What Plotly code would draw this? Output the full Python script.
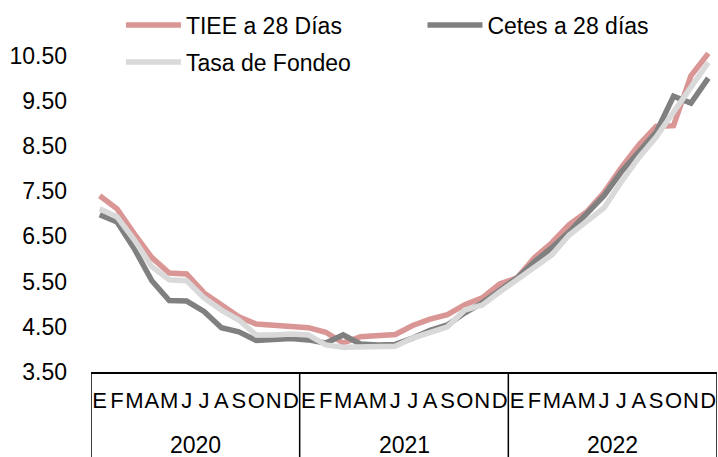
import plotly.graph_objects as go

# Datos mensuales (%)
anios = ["2020", "2021", "2022"]
meses = ["E", "F", "M", "A", "M", "J", "J", "A", "S", "O", "N", "D"]

tiee = [7.40, 7.11, 6.55, 6.03, 5.69, 5.67, 5.25, 5.00, 4.72, 4.56, 4.54, 4.52,
        4.48, 4.38, 4.14, 4.28, 4.29, 4.33, 4.53, 4.67, 4.77, 4.99, 5.14, 5.45,
        5.58, 6.03, 6.36, 6.76, 7.04, 7.47, 8.02, 8.52, 8.93, 8.95, 10.05, 10.55]
cetes = [6.98, 6.82, 6.22, 5.52, 5.08, 5.07, 4.84, 4.48, 4.39, 4.20, 4.22, 4.24,
         4.21, 4.14, 4.32, 4.12, 4.10, 4.11, 4.25, 4.42, 4.54, 4.81, 5.03, 5.32,
         5.58, 5.94, 6.25, 6.60, 6.98, 7.40, 7.93, 8.35, 8.80, 9.60, 9.45, 10.00]
fondeo = [7.11, 6.93, 6.42, 5.83, 5.54, 5.52, 5.14, 4.87, 4.65, 4.32, 4.32, 4.34,
          4.32, 4.10, 4.05, 4.05, 4.05, 4.07, 4.25, 4.39, 4.50, 4.87, 4.98, 5.27,
          5.54, 5.83, 6.09, 6.53, 6.82, 7.13, 7.71, 8.24, 8.70, 9.25, 9.75, 10.35]

fechas = [f"{a}-{i + 1:02d}" for a in anios for i in range(12)]
etiquetas = [m for a in anios for m in meses]

fig = go.Figure()
fig.add_trace(go.Scatter(x=fechas, y=tiee, name="TIEE a 28 Días", mode="lines",
                         line=dict(color="#D99694", width=5.5), legend="legend"))
fig.add_trace(go.Scatter(x=fechas, y=cetes, name="Cetes a 28 días", mode="lines",
                         line=dict(color="#808080", width=5.5), legend="legend3"))
fig.add_trace(go.Scatter(x=fechas, y=fondeo, name="Tasa de Fondeo", mode="lines",
                         line=dict(color="#D9D9D9", width=5.5), legend="legend2"))

# separadores de año y etiquetas de año
for k, a in enumerate(anios):
    fig.add_annotation(x=12 * k + 5.5, y=-0.215, xref="x", yref="paper", text=a,
                       showarrow=False, yanchor="middle", font=dict(size=23, color="black"))
for k in range(len(anios) + 1):
    fig.add_shape(type="line", xref="x", yref="paper", x0=12 * k - 0.5, x1=12 * k - 0.5,
                  y0=0, y1=-0.26, line=dict(color="black", width=1.5))

fig.update_xaxes(type="category", range=[-0.5, 35.5], tickvals=fechas, ticktext=etiquetas,
                 showline=True, linecolor="black", linewidth=1.5, tickangle=0, ticks="",
                 showgrid=False, automargin=False, ticklabelstandoff=8,
                 tickfont=dict(size=22, color="black"))
fig.update_yaxes(range=[3.5, 11.0], tickvals=[3.5, 4.5, 5.5, 6.5, 7.5, 8.5, 9.5, 10.5],
                 tickformat=".2f", showgrid=False, zeroline=False, ticks="", automargin=False,
                 ticklabelstandoff=23, tickfont=dict(size=23, color="black"))

leg = dict(orientation="h", xanchor="left", yanchor="top", itemwidth=55,
           bgcolor="rgba(0,0,0,0)", font=dict(size=23))
fig.update_layout(width=718, height=457, margin=dict(l=91, r=1, t=33, b=85),
                  plot_bgcolor="white", paper_bgcolor="white",
                  font=dict(family="Liberation Sans, Arial", size=23, color="black"),
                  showlegend=True,
                  legend=dict(leg, x=0.0478, y=1.087),
                  legend3=dict(leg, x=0.5295, y=1.087),
                  legend2=dict(leg, x=0.0478, y=0.978))
fig.write_html("out.html", config={"displayModeBar": False},
               post_script="document.body.style.margin='0';")
